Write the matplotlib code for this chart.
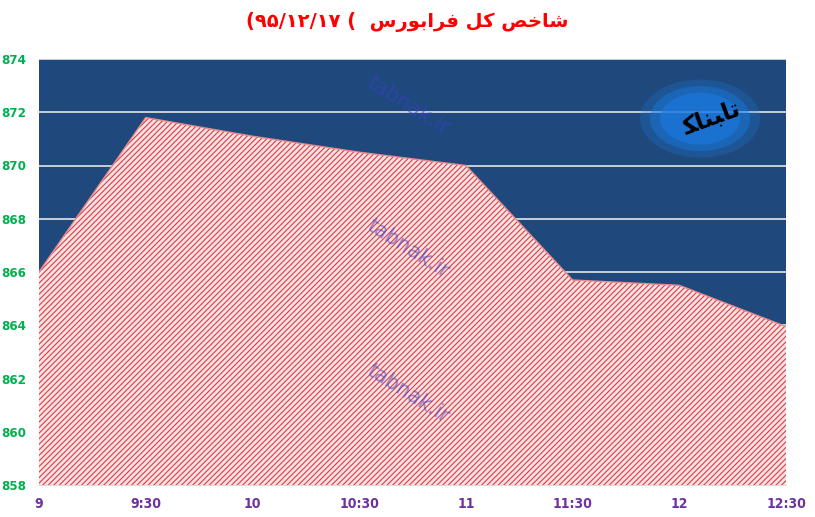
import matplotlib.pyplot as plt
from matplotlib.patches import Ellipse
import numpy as np

# data
times = ['9', '9:30', '10', '10:30', '11', '11:30', '12', '12:30']
index_vals = [866.0, 871.8, 871.1, 870.5, 870.0, 865.7, 865.5, 863.95]
yticks = [858, 860, 862, 864, 866, 868, 870, 872, 874]

# title, shaped by hand (presentation forms, visual order)
title_txt = ('(\u06f9\u06f5/\u06f1\u06f2/\u06f1\u06f7 (  '
             '\ufeb1\ufead\ufeee\ufe91\ufe8d\ufeae\ufed3 '
             '\ufede\ufedb '
             '\ufeba\ufea7\ufe8e\ufeb7')

plt.rcParams['hatch.linewidth'] = 0.75
plt.rcParams['hatch.color'] = '#d9363e'

fig = plt.figure(figsize=(8.15, 5.17), dpi=100)
ax = fig.add_axes([39/815, 32/517, 747/815, 426/517])
ax.set_facecolor('#1f497d')

x = np.arange(len(times))
ax.fill_between(x, 858, index_vals, facecolor='#fae0e0', edgecolor='#d9363e',
                hatch='//////', linewidth=0.0, zorder=3)
ax.plot(x, index_vals, color='#e88a8e', lw=1.0, zorder=4)

ax.set_xlim(0, len(times) - 1)
ax.set_ylim(858, 874)
ax.set_yticks(yticks)
ax.set_xticks(x)
ax.set_xticklabels(times)
ax.grid(axis='y', color='#e6e6e6', lw=1.2, zorder=1)
ax.set_axisbelow(True)
for s in ['left', 'right', 'top']:
    ax.spines[s].set_visible(False)
ax.spines['bottom'].set_color('#d9d9d9')
ax.tick_params(length=0)
ax.tick_params(axis='y', pad=9.5, labelsize=9.5, labelcolor='#00b050')
ax.tick_params(axis='x', pad=9, labelsize=10, labelcolor='#7030a0')
for t in ax.get_yticklabels() + ax.get_xticklabels():
    t.set_fontweight('bold')
    t.set_fontstretch('condensed')

# watermarks
for wy in [0.89, 0.555, 0.215]:
    ax.text(0.494, wy, 'tabnak.ir', transform=ax.transAxes, rotation=-32,
            color='#3a3fc8', alpha=0.55, fontsize=15, ha='center', va='center',
            zorder=5)

# logo placeholder
for w, a in [(120, 0.25), (100, 0.45), (80, 0.6)]:
    ax.add_patch(Ellipse((0.885, 0.86), w/747, w*0.65/426, transform=ax.transAxes,
                         color='#1a7ae0', alpha=a, lw=0, zorder=5))
ax.text(0.9, 0.86, '\ufedc\ufe8e\ufee8\ufe92\ufe8e\ufe97', transform=ax.transAxes,
        fontsize=17, fontweight='bold', color='black', rotation=20,
        ha='center', va='center', zorder=6)

fig.text(0.5, 0.957, title_txt, color='#ff0000', fontsize=14, fontweight='bold',
         ha='center', va='center', family=['DejaVu Sans'])

fig.savefig('out.png', dpi=100)
